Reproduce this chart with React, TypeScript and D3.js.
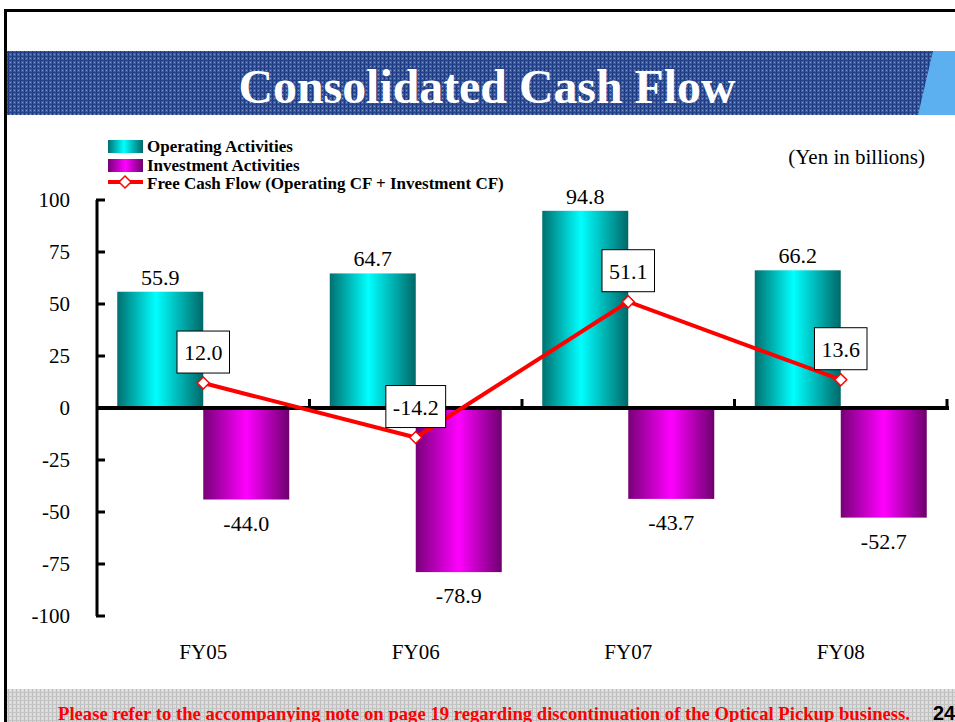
import * as d3 from "d3";

const categories = ["FY05", "FY06", "FY07", "FY08"];
const operating = [55.9, 64.7, 94.8, 66.2];
const investment = [-44.0, -78.9, -43.7, -52.7];
const freeCashFlow = [12.0, -14.2, 51.1, 13.6];
const yTicks = [100, 75, 50, 25, 0, -25, -50, -75, -100];

const W = 955;
const H = 722;
const serif = "'Liberation Serif', 'Times New Roman', serif";

// rough Times widths at 22px, used to size the label boxes
function textW(s: string) {
  let w = 0;
  for (const c of s) w += c === "." ? 5.5 : c === "-" ? 7.3 : 11;
  return w;
}

export default function App() {
  const x = d3.scaleBand().domain(categories).range([97, 947]).padding(0);
  const y = d3.scaleLinear().domain([-100, 100]).range([616, 200]);
  const barW = 86;
  const cx = (c: string) => (x(c) as number) + x.bandwidth() / 2;

  const line = d3
    .line<number>()
    .x((d, i) => cx(categories[i]))
    .y((d) => y(d));

  return (
    <svg width={W} height={H} style={{ position: "absolute", left: 0, top: 0 }}>
      <defs>
        <pattern id="bluegrid" width="4" height="4" patternUnits="userSpaceOnUse">
          <rect width="4" height="4" fill="#3a5ea6" />
          <rect x="0" y="0" width="1" height="4" fill="#1a3780" />
          <rect x="0" y="0" width="4" height="1" fill="#234289" />
          <rect x="2" y="2" width="1" height="1" fill="#7f9ad0" />
        </pattern>
        <pattern id="greygrid" width="4" height="4" patternUnits="userSpaceOnUse">
          <rect width="4" height="4" fill="#dcdcdc" />
          <rect x="0" y="0" width="1" height="4" fill="#bdbdbd" />
          <rect x="0" y="0" width="4" height="1" fill="#c4c4c4" />
        </pattern>
        <linearGradient id="cyanGrad" x1="0" x2="1" y1="0" y2="0">
          <stop offset="0" stopColor="#007070" />
          <stop offset="0.45" stopColor="#00ffff" />
          <stop offset="1" stopColor="#006868" />
        </linearGradient>
        <linearGradient id="magGrad" x1="0" x2="1" y1="0" y2="0">
          <stop offset="0" stopColor="#780078" />
          <stop offset="0.5" stopColor="#ff00ff" />
          <stop offset="1" stopColor="#6e006e" />
        </linearGradient>
      </defs>

      {/* slide frame */}
      <rect x={0} y={0} width={W} height={H} fill="#fff" />
      <line x1={4} x2={W} y1={10.5} y2={10.5} stroke="#000" strokeWidth={3} />
      <line x1={5.5} x2={5.5} y1={9} y2={H} stroke="#000" strokeWidth={3} />

      {/* title banner */}
      <rect x={7} y={51} width={W - 7} height={64} fill="url(#bluegrid)" />
      <polygon points={`933,51 ${W},51 ${W},115 918,115`} fill="#5cb0f0" />
      <text
        x={487}
        y={103}
        textAnchor="middle"
        fontFamily={serif}
        fontWeight="bold"
        fontSize={48}
        fill="#fff"
        textLength={497}
        lengthAdjust="spacingAndGlyphs"
      >
        Consolidated Cash Flow
      </text>

      {/* footer */}
      <rect x={7} y={689} width={W - 7} height={H - 689} fill="url(#greygrid)" />
      <text
        x={58}
        y={720}
        fontFamily={serif}
        fontWeight="bold"
        fontSize={19}
        fill="#ff0000"
        textLength={852}
        lengthAdjust="spacingAndGlyphs"
      >
        Please refer to the accompanying note on page 19 regarding discontinuation of the Optical Pickup business.
      </text>
      <text x={933} y={720} fontFamily="'Liberation Sans', Arial, sans-serif" fontWeight="bold" fontSize={20} fill="#000">
        24
      </text>

      {/* legend */}
      <rect x={108} y={140} width={35} height={13} fill="url(#cyanGrad)" />
      <rect x={108} y={159} width={35} height={13} fill="url(#magGrad)" />
      <line x1={108} x2={143} y1={182} y2={182} stroke="#ff0000" strokeWidth={4} />
      <path d="M125,176 L131,182 L125,188 L119,182 Z" fill="#fff" stroke="#ff0000" strokeWidth={1.5} />
      <g fontFamily={serif} fontWeight="bold" fontSize={17} fill="#000">
        <text x={147} y={152}>Operating Activities</text>
        <text x={147} y={171}>Investment Activities</text>
        <text x={147} y={189}>Free Cash Flow (Operating CF + Investment CF)</text>
      </g>
      <text x={925} y={164} textAnchor="end" fontFamily={serif} fontSize={21} fill="#000">
        (Yen in billions)
      </text>

      {/* bars */}
      {categories.map((c, i) => (
        <g key={c}>
          <rect x={cx(c) - barW} y={y(operating[i])} width={barW} height={y(0) - y(operating[i])} fill="url(#cyanGrad)" />
          <rect x={cx(c)} y={y(0)} width={barW} height={y(investment[i]) - y(0)} fill="url(#magGrad)" />
          <text x={cx(c) - barW / 2} y={y(operating[i]) - 7} textAnchor="middle" fontFamily={serif} fontSize={22} fill="#000">
            {operating[i].toFixed(1)}
          </text>
          <text x={cx(c) + barW / 2} y={y(investment[i]) + 31} textAnchor="middle" fontFamily={serif} fontSize={22} fill="#000">
            {investment[i].toFixed(1)}
          </text>
        </g>
      ))}

      {/* y axis */}
      <line x1={97} x2={97} y1={y(100)} y2={y(-100)} stroke="#000" strokeWidth={3} />
      {yTicks.map((t) => (
        <g key={t}>
          <line x1={96} x2={105} y1={y(t)} y2={y(t)} stroke="#000" strokeWidth={3} />
          <text x={70} y={y(t) + 7} textAnchor="end" fontFamily={serif} fontSize={21} fill="#000">
            {t}
          </text>
        </g>
      ))}

      {/* x axis */}
      <line x1={96} x2={949} y1={y(0)} y2={y(0)} stroke="#000" strokeWidth={4} />
      {categories.map((c) => (
        <g key={c}>
          <line
            x1={(x(c) as number) + x.bandwidth()}
            x2={(x(c) as number) + x.bandwidth()}
            y1={y(0)}
            y2={y(0) - 9}
            stroke="#000"
            strokeWidth={3}
          />
          <text x={cx(c)} y={659} textAnchor="middle" fontFamily={serif} fontSize={21} fill="#000">
            {c}
          </text>
        </g>
      ))}

      {/* free cash flow line */}
      <path d={line(freeCashFlow) || ""} fill="none" stroke="#ff0000" strokeWidth={4} />
      {freeCashFlow.map((v, i) => {
        const px = cx(categories[i]);
        const py = y(v);
        const label = v.toFixed(1);
        const bw = textW(label) + 14;
        return (
          <g key={i}>
            <path
              d={`M${px},${py - 6} L${px + 6},${py} L${px},${py + 6} L${px - 6},${py} Z`}
              fill="#fff"
              stroke="#ff0000"
              strokeWidth={1.5}
            />
            <rect x={px - bw / 2} y={py - 52} width={bw} height={42} fill="#fff" stroke="#000" strokeWidth={1} />
            <text x={px} y={py - 23} textAnchor="middle" fontFamily={serif} fontSize={22} fill="#000">
              {label}
            </text>
          </g>
        );
      })}
    </svg>
  );
}
